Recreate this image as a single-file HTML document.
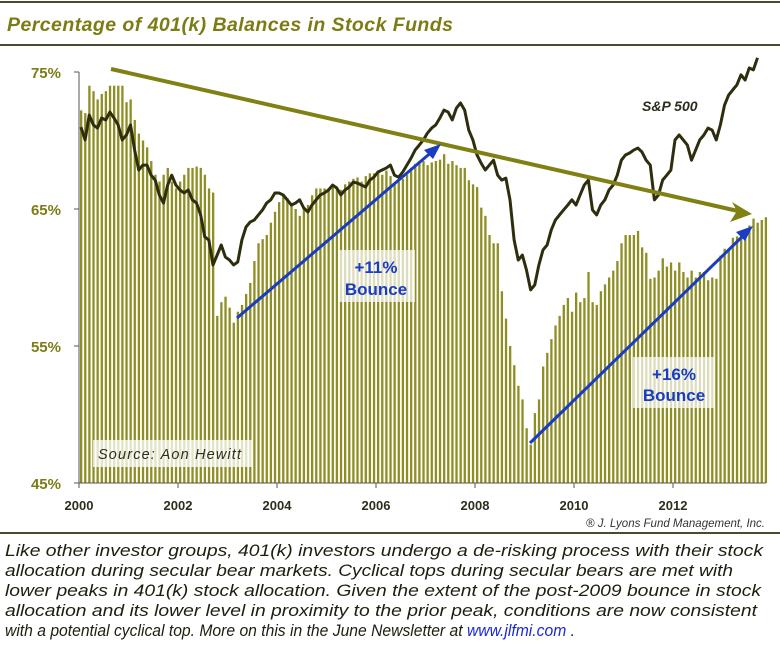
<!DOCTYPE html>
<html><head><meta charset="utf-8"><style>
html,body{margin:0;padding:0;background:#fff;}
svg{display:block;font-family:"Liberation Sans",sans-serif;}
</style></head><body>
<svg id="chart" width="780" height="655" viewBox="0 0 780 655" xmlns="http://www.w3.org/2000/svg">
<line x1="0" y1="2" x2="780" y2="2" stroke="#4a4a30" stroke-width="2"/>
<text x="7" y="31" font-size="19.5" font-weight="bold" font-style="italic" fill="#7c7c14" textLength="446">Percentage of 401(k) Balances in Stock Funds</text>
<line x1="0" y1="45" x2="780" y2="45" stroke="#4a4a30" stroke-width="2"/>
<g id="bars"></g>
<g id="axes"></g>
<path id="spx" fill="none" stroke="#2e2e0e" stroke-width="3" stroke-linejoin="round"/>
<g>
<line x1="111" y1="69" x2="738" y2="211" stroke="#808014" stroke-width="4"/>
<polygon points="752,214 732,202 737,211 730,222" fill="#808014"/>
</g>
<g>
<line x1="237" y1="318" x2="434" y2="150" stroke="#1a3cc0" stroke-width="3"/>
<polygon points="441,144 424,150 433,159" fill="#1a3cc0"/>
</g>
<g>
<line x1="530" y1="443" x2="746" y2="233" stroke="#1a3cc0" stroke-width="3"/>
<polygon points="753,226 736,232 745,241" fill="#1a3cc0"/>
</g>
<g>
<rect x="338" y="250" width="77" height="52" fill="#fff" fill-opacity="0.7"/>
<text x="376" y="273" font-size="17" font-weight="bold" fill="#1a3cc0" text-anchor="middle">+11%</text>
<text x="376" y="295" font-size="17" font-weight="bold" fill="#1a3cc0" text-anchor="middle">Bounce</text>
</g>
<g>
<rect x="633" y="357" width="82" height="51" fill="#fff" fill-opacity="0.7"/>
<text x="674" y="380" font-size="17" font-weight="bold" fill="#1a3cc0" text-anchor="middle">+16%</text>
<text x="674" y="401" font-size="17" font-weight="bold" fill="#1a3cc0" text-anchor="middle">Bounce</text>
</g>
<g>
<rect x="93" y="440" width="160" height="27" fill="#fff" fill-opacity="0.75"/>
<text x="98" y="459" font-size="14.5" font-style="italic" fill="#2e2e1e" textLength="143">Source: Aon Hewitt</text>
</g>
<text x="642" y="111" font-size="14" font-weight="bold" font-style="italic" fill="#2e2e1e">S&amp;P 500</text>
<text x="765" y="527" font-size="11.5" font-style="italic" fill="#333" text-anchor="end">® J. Lyons Fund Management, Inc.</text>
<line x1="0" y1="533" x2="780" y2="533" stroke="#4a4a30" stroke-width="2"/>
<g font-size="16.5" font-style="italic" fill="#1e1e10">
<text x="5" y="556" textLength="758" lengthAdjust="spacingAndGlyphs">Like other investor groups, 401(k) investors undergo a de-risking process with their stock</text>
<text x="5" y="576" textLength="728" lengthAdjust="spacingAndGlyphs">allocation during secular bear markets. Cyclical tops during secular bears are met with</text>
<text x="5" y="596" textLength="756" lengthAdjust="spacingAndGlyphs">lower peaks in 401(k) stock allocation. Given the extent of the post-2009 bounce in stock</text>
<text x="5" y="616" textLength="752" lengthAdjust="spacingAndGlyphs">allocation and its lower level in proximity to the prior peak, conditions are now consistent</text>
<text x="5" y="636" textLength="570" lengthAdjust="spacingAndGlyphs">with a potential cyclical top. More on this in the June Newsletter at <tspan fill="#1a2ad0">www.jlfmi.com</tspan> .</text>
</g>
</svg>
<script>
const allocation = [
72.2,72,74,73.6,73,73.4,73.6,74,74,74,74,72.8,
73,71.5,70.5,70,69.5,68.5,67.5,67,67.5,68,67,66.5,
67,67.5,68,68,68.1,68,67.5,66.5,66.2,57.2,58.2,58.6,
57.8,56.7,57.5,58,58.8,59.6,61.2,62.5,62.8,63.1,64,64.8,
65.5,66,65.8,65.3,65,64.5,65,65.3,66,66.5,66.5,66.5,
66.5,66.6,66.5,66.4,66.8,67,67.2,67.3,67,67.4,67.6,67.6,
67.7,67.5,67.8,67.4,66.8,67,67.2,67.5,68,68.3,68.5,68.5,
68.2,68.4,68.5,68.6,69,68.3,68.5,68.2,68,68,67.1,66.8,
66.6,65.1,64.5,63.1,62.5,62.5,59,57,55,53.6,52.1,51.1,
49,47.8,50.1,51.1,53.5,54.5,55.5,56.5,57.2,58,58.5,57.5,
58.9,58.2,58.5,60.4,58.2,58,59,59.5,60,60.5,61.2,62.5,
63.1,63.1,63.1,63.4,62.2,61.8,59.9,60,60.5,61.4,60.8,61.1,
60.5,61.1,60.4,60,60.5,60,60.4,60.4,59.8,60,59.9,61.6,
62.1,62.1,62.9,63,63.2,63.4,63.8,64.3,64,64.2,64.4];
const sp500 = [
1416,1364,1465,1425,1412,1453,1445,1477,1453,1425,1364,1384,
1425,1323,1242,1262,1262,1221,1201,1140,1108,1181,1221,1181,
1161,1149,1161,1121,1108,1060,971,958,857,897,938,889,
877,857,869,958,1011,1031,1039,1060,1080,1108,1121,1149,
1149,1141,1121,1100,1108,1121,1088,1072,1100,1121,1141,1149,
1161,1181,1169,1141,1161,1173,1193,1189,1181,1173,1201,1213,
1234,1242,1250,1262,1221,1213,1234,1262,1290,1323,1343,1364,
1392,1412,1425,1453,1485,1477,1445,1493,1514,1485,1404,1364,
1303,1270,1242,1262,1282,1221,1201,1209,1121,958,877,897,
836,756,776,857,918,938,999,1039,1060,1080,1100,1121,
1100,1141,1181,1201,1080,1060,1100,1121,1161,1181,1221,1282,
1303,1311,1323,1331,1315,1282,1262,1121,1141,1201,1221,1242,
1364,1384,1364,1343,1282,1323,1364,1384,1412,1404,1364,1425,
1505,1546,1567,1587,1628,1607,1656,1648,1697];
const yTicks = [45,55,65,75];
const yTickLabels = ["45%","55%","65%","75%"];
const xTicks = [2000,2002,2004,2006,2008,2010,2012];
const xTickLabels = ["2000","2002","2004","2006","2008","2010","2012"];

const NS="http://www.w3.org/2000/svg";
const X0=79, MONTH=4.125, Y45=483, PXPCT=13.7;
const xm = i => X0 + i*MONTH;
const yv = v => Y45 - (v-45)*PXPCT;
const ys = v => 476.3 - v*0.2466;
const xy = yr => X0 + (yr-2000)*12*MONTH;
function mk(tag, attrs, parent){const e=document.createElementNS(NS,tag);for(const k in attrs)e.setAttribute(k,attrs[k]);parent.appendChild(e);return e;}

const bars=document.getElementById('bars');
allocation.forEach((v,i)=>{
  const r=mk('rect',{x:(xm(i)+1).toFixed(2),y:yv(v).toFixed(2),width:2.3,height:(Y45-yv(v)).toFixed(2),fill:'#8e8e22'},bars);
  
  
});

const ax=document.getElementById('axes');
mk('line',{x1:X0,y1:yv(75),x2:X0,y2:Y45,stroke:'#555',"stroke-width":1},ax);
mk('line',{x1:X0,y1:Y45,x2:766,y2:Y45,stroke:'#555',"stroke-width":1},ax);
yTicks.forEach((t,i)=>{
  mk('line',{x1:X0-5,y1:yv(t),x2:X0,y2:yv(t),stroke:'#555'},ax);
  const tx=mk('text',{x:61,y:yv(t)+6,"font-size":15,"font-weight":"bold",fill:"#7c7c14","text-anchor":"end"},ax);
  tx.textContent=yTickLabels[i];
  
  
});
xTicks.forEach((t,i)=>{
  mk('line',{x1:xy(t),y1:Y45,x2:xy(t),y2:Y45+5,stroke:'#555'},ax);
  const tx=mk('text',{x:xy(t),y:510,"font-size":13,"font-weight":"bold",fill:"#2e2e1e","text-anchor":"middle"},ax);
  tx.textContent=xTickLabels[i];
  
  
});

let d='';
sp500.forEach((v,i)=>{d+=(i?'L':'M')+(xm(i)+2).toFixed(2)+','+ys(v).toFixed(2);});
document.getElementById('spx').setAttribute('d',d);
</script>
</body></html>
